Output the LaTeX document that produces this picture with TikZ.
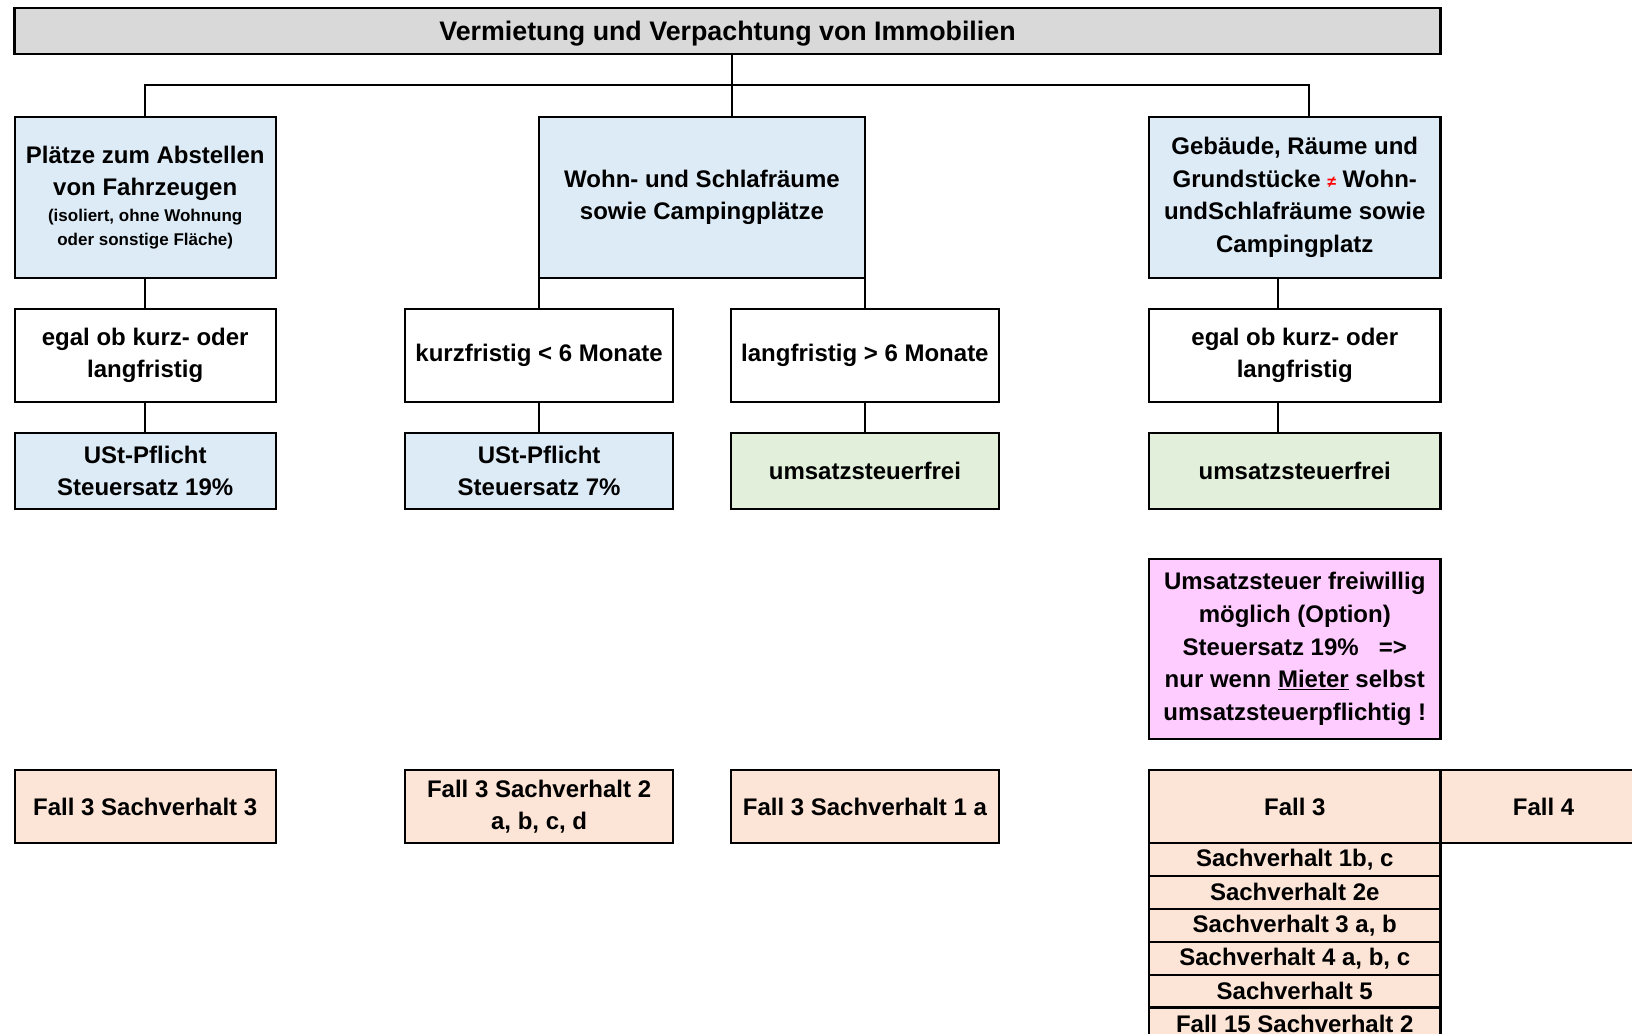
\documentclass[tikz,border=0pt]{standalone}
\usepackage{fontspec}
\setmainfont{Liberation Sans}
\usepackage{xcolor}
\usetikzlibrary{positioning}
\definecolor{headgray}{RGB}{217,217,217}
\definecolor{paleblue}{RGB}{221,235,247}
\definecolor{palegreen}{RGB}{226,239,218}
\definecolor{palepink}{RGB}{255,204,255}
\definecolor{palepeach}{RGB}{252,228,214}
\newcommand{\titlefont}{\fontsize{26.8pt}{32pt}\selectfont\bfseries}
\newcommand{\boxfont}{\fontsize{24pt}{32.6pt}\selectfont\bfseries}
\newcommand{\smallfont}{\fontsize{17pt}{24pt}\selectfont\bfseries}
\newcommand{\neqfont}{\fontsize{16pt}{16pt}\selectfont}
\tikzset{
  cell/.style={draw, line width=2.2pt, inner sep=0pt, outer sep=0pt, align=center, font=\boxfont},
  graycell/.style={cell, fill=headgray},
  bluecell/.style={cell, fill=paleblue},
  greencell/.style={cell, fill=palegreen},
  pinkcell/.style={cell, fill=palepink},
  peachcell/.style={cell, fill=palepeach},
  link/.style={line width=2pt},
}

\begin{document}
\begin{tikzpicture}[x=1pt, y=-1pt]
  \useasboundingbox[fill=white] (0,0) rectangle (1632,1033);
  \clip (0,0) rectangle (1632,1033);

  \node[graycell, minimum width=1425.9pt, minimum height=45.8pt, font=\titlefont, text depth=-1pt] (title) at (727.5,31.2) {Vermietung und Verpachtung von Immobilien};

  \node[bluecell, minimum width=261.2pt, minimum height=161.3pt] (park) at (145.2,197.25) {Plätze zum Abstellen\\von Fahrzeugen\\[-7pt]{\smallfont (isoliert, ohne Wohnung}\\[-8.6pt]{\smallfont oder sonstige Fläche)}};
  \node[bluecell, minimum width=325.8pt, minimum height=161.3pt] (wohn) at (702,197.25) {Wohn- und Schlafräume\\sowie Campingplätze};
  \node[bluecell, minimum width=291.5pt, minimum height=161.3pt] (geb) at (1294.75,197.25) {Gebäude, Räume und\\Grundstücke {\color{red}\neqfont ≠} Wohn-\\undSchlafräume sowie\\Campingplatz};

  \node[cell, minimum width=261.2pt, minimum height=92.6pt, below=31.2pt of park] (parkdauer) {egal ob kurz- oder\\langfristig};
  \node[bluecell, minimum width=261.2pt, minimum height=75.9pt, below=31.3pt of parkdauer] (parksteuer) {USt-Pflicht\\Steuersatz 19\%};

  \node[cell, minimum width=267.5pt, minimum height=92.6pt, below=31.2pt of wohn.south west] (kurz) {kurzfristig < 6 Monate};
  \node[cell, minimum width=267.5pt, minimum height=92.6pt, below=31.2pt of wohn.south east] (lang) {langfristig > 6 Monate};
  \node[bluecell, minimum width=267.5pt, minimum height=75.9pt, below=31.3pt of kurz] (kurzsteuer) {USt-Pflicht\\Steuersatz 7\%};
  \node[greencell, minimum width=267.5pt, minimum height=75.9pt, below=31.3pt of lang] (langsteuer) {umsatzsteuerfrei};

  \node[cell, minimum width=291.5pt, minimum height=92.6pt, below=31.2pt of geb] (gebdauer) {egal ob kurz- oder\\langfristig};
  \node[greencell, minimum width=291.5pt, minimum height=75.9pt, below=31.3pt of gebdauer] (gebsteuer) {umsatzsteuerfrei};
  \node[pinkcell, minimum width=291.5pt, minimum height=180.1pt, below=50pt of gebsteuer] (option) {Umsatzsteuer freiwillig\\möglich (Option)\\Steuersatz 19\%~~~=>\\nur wenn \underline{Mieter} selbst\\umsatzsteuerpflichtig !};

  \node[peachcell, minimum width=261.2pt, minimum height=72.8pt, below=261.3pt of parksteuer] (fallpark) {Fall 3 Sachverhalt 3};
  \node[peachcell, minimum width=267.5pt, minimum height=72.8pt, below=261.3pt of kurzsteuer] (fallkurz) {Fall 3 Sachverhalt 2\\a, b, c, d};
  \node[peachcell, minimum width=267.5pt, minimum height=72.8pt, below=261.3pt of langsteuer] (falllang) {Fall 3 Sachverhalt 1 a};

  \node[peachcell, minimum width=291.5pt, minimum height=72.8pt, below=31.2pt of option] (fall3) {Fall 3};
  \node[peachcell, minimum width=206pt, minimum height=72.8pt, right=0pt of fall3] (fall4) {Fall 4};
  \node[peachcell, minimum width=291.5pt, minimum height=32.9pt, below=0pt of fall3] (sv1) {Sachverhalt 1b, c};
  \node[peachcell, minimum width=291.5pt, minimum height=32.9pt, below=0pt of sv1] (sv2) {Sachverhalt 2e};
  \node[peachcell, minimum width=291.5pt, minimum height=32.9pt, below=0pt of sv2] (sv3) {Sachverhalt 3 a, b};
  \node[peachcell, minimum width=291.5pt, minimum height=32.9pt, below=0pt of sv3] (sv4) {Sachverhalt 4 a, b, c};
  \node[peachcell, minimum width=291.5pt, minimum height=32.9pt, below=0pt of sv4] (sv5) {Sachverhalt 5};
  \node[peachcell, minimum width=291.5pt, minimum height=32.9pt, below=0pt of sv5] (sv6) {Fall 15 Sachverhalt 2};

  \coordinate (bar) at (731.7,85.3);
  \draw[link] (park.north) |- (bar) -| ([xshift=14.5pt]geb.north);
  \draw[link] (title.south -| bar) -- (bar |- wohn.north);
  \draw[link] (park) -- (parkdauer);
  \draw[link] (parkdauer) -- (parksteuer);
  \draw[link] (wohn.south west) -- (kurz);
  \draw[link] (wohn.south east) -- (lang);
  \draw[link] (kurz) -- (kurzsteuer);
  \draw[link] (lang) -- (langsteuer);
  \draw[link] ([xshift=-16.7pt]geb.south) -- ([xshift=-16.7pt]gebdauer.north);
  \draw[link] ([xshift=-16.7pt]gebdauer.south) -- ([xshift=-16.7pt]gebsteuer.north);
\end{tikzpicture}
\end{document}
